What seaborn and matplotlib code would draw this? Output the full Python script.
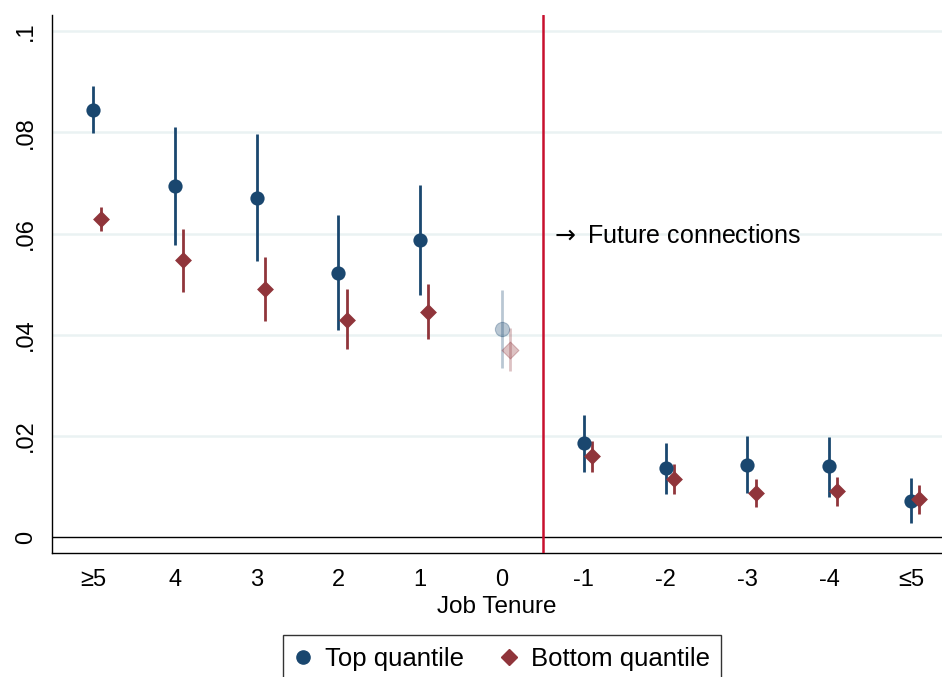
import numpy as np
import pandas as pd
import matplotlib
matplotlib.use("Agg")
import matplotlib.pyplot as plt
from matplotlib.lines import Line2D
import seaborn as sns

# Job tenure categories (left to right)
tenure_labels = ["≥5", "4", "3", "2", "1", "0", "-1", "-2", "-3", "-4", "≤5"]

# Top quantile: point estimates and 95% CI bounds
top_est = [0.0845, 0.0694, 0.0671, 0.0523, 0.0588, 0.0411, 0.0186, 0.0136, 0.0143, 0.0141, 0.0072]
top_lo = [0.0798, 0.0578, 0.0545, 0.0410, 0.0478, 0.0334, 0.0130, 0.0085, 0.0087, 0.0080, 0.0029]
top_hi = [0.0892, 0.0810, 0.0797, 0.0636, 0.0697, 0.0488, 0.0241, 0.0187, 0.0200, 0.0199, 0.0117]

# Bottom quantile: point estimates and 95% CI bounds
bot_est = [0.0629, 0.0548, 0.0490, 0.0429, 0.0446, 0.0370, 0.0161, 0.0115, 0.0087, 0.0092, 0.0076]
bot_lo = [0.0605, 0.0485, 0.0428, 0.0372, 0.0392, 0.0329, 0.0130, 0.0086, 0.0060, 0.0062, 0.0047]
bot_hi = [0.0653, 0.0610, 0.0553, 0.0490, 0.0500, 0.0413, 0.0190, 0.0144, 0.0115, 0.0120, 0.0103]

y_ticks = [0, 0.02, 0.04, 0.06, 0.08, 0.1]
y_tick_labels = ["0", ".02", ".04", ".06", ".08", ".1"]

BLUE = "#1a476f"
RED = "#90353b"
VLINE = "#c8102e"
GRID = "#eaf2f3"
faded_index = 5  # the "0" category is shown muted

n = len(tenure_labels)
pos = np.arange(n)
offset = 0.1

rows = []
for i in range(n):
    rows.append(dict(x=pos[i], est=top_est[i], lo=top_lo[i], hi=top_hi[i], group="Top quantile"))
    rows.append(dict(x=pos[i] + offset, est=bot_est[i], lo=bot_lo[i], hi=bot_hi[i], group="Bottom quantile"))
df = pd.DataFrame(rows)
df["faded"] = np.repeat(pos == faded_index, 2)

sns.set_style("white")
plt.rcParams["font.family"] = ["Liberation Sans", "DejaVu Sans"]
plt.rcParams["text.color"] = "black"
plt.rcParams["axes.labelcolor"] = "black"
plt.rcParams["xtick.color"] = "black"
plt.rcParams["ytick.color"] = "black"

fig = plt.figure(figsize=(9.42, 6.77), dpi=100)
ax = fig.add_axes([52 / 942, 1 - 553.3 / 677, 1 - 52 / 942, (553.3 - 15) / 677])

# light horizontal grid
for yv in y_ticks[1:]:
    ax.axhline(yv, color=GRID, lw=1.8, zorder=0)
ax.axhline(0, color="black", lw=1.0, zorder=1)

palette = {"Top quantile": BLUE, "Bottom quantile": RED}
markers = {"Top quantile": "o", "Bottom quantile": "D"}
sizes = {"Top quantile": 105, "Bottom quantile": 74}

for grp in ["Top quantile", "Bottom quantile"]:
    for faded in [False, True]:
        sub = df[(df.group == grp) & (df.faded == faded)]
        alpha = 0.3 if faded else 1.0
        ax.vlines(sub.x, sub.lo, sub.hi, color=palette[grp], lw=2.0, alpha=alpha, zorder=2)
        sns.scatterplot(data=sub, x="x", y="est", ax=ax, color=palette[grp],
                        marker=markers[grp], s=sizes[grp], alpha=alpha,
                        edgecolor=palette[grp], linewidth=0.8 if faded else 0,
                        legend=False, zorder=3)

ax.axvline(5.5, color=VLINE, lw=1.8, zorder=4)
ax.text(5.59, 0.0595, r"$\rightarrow$ Future connections", fontsize=18, va="center",
        ha="left", color="black")

ax.set_xlim(-0.502, 10.38)
ax.set_ylim(-0.00316, 0.1032)
ax.set_xticks(pos)
ax.set_xticklabels(tenure_labels, fontsize=17)
ax.set_yticks(y_ticks)
ax.set_yticklabels(y_tick_labels, fontsize=17, rotation=90, va="center")
ax.set_xlabel("Job Tenure", fontsize=17.5, labelpad=4, color="black")
ax.set_ylabel("")

for side in ["top", "right"]:
    ax.spines[side].set_visible(False)
for side in ["left", "bottom"]:
    ax.spines[side].set_color("black")
    ax.spines[side].set_linewidth(1.0)
ax.tick_params(axis="both", direction="out", length=7, width=1, color="black",
               labelcolor="black", pad=4)

handles = [
    Line2D([], [], ls="none", marker="o", color=BLUE, markersize=9.5),
    Line2D([], [], ls="none", marker="D", color=RED, markersize=8),
]
leg = fig.legend(handles, ["Top quantile", "Bottom quantile"], loc="upper center",
                 bbox_to_anchor=(502 / 942, 1 - 635 / 677), ncol=2, fontsize=18.5,
                 frameon=True, fancybox=False, edgecolor="#333333", framealpha=1,
                 handlelength=0.7, handletextpad=0.5, columnspacing=1.4,
                 borderpad=0.45, borderaxespad=0)
leg.get_frame().set_linewidth(1.0)
for t in leg.get_texts():
    t.set_color("black")

fig.savefig("out.png", dpi=100)
